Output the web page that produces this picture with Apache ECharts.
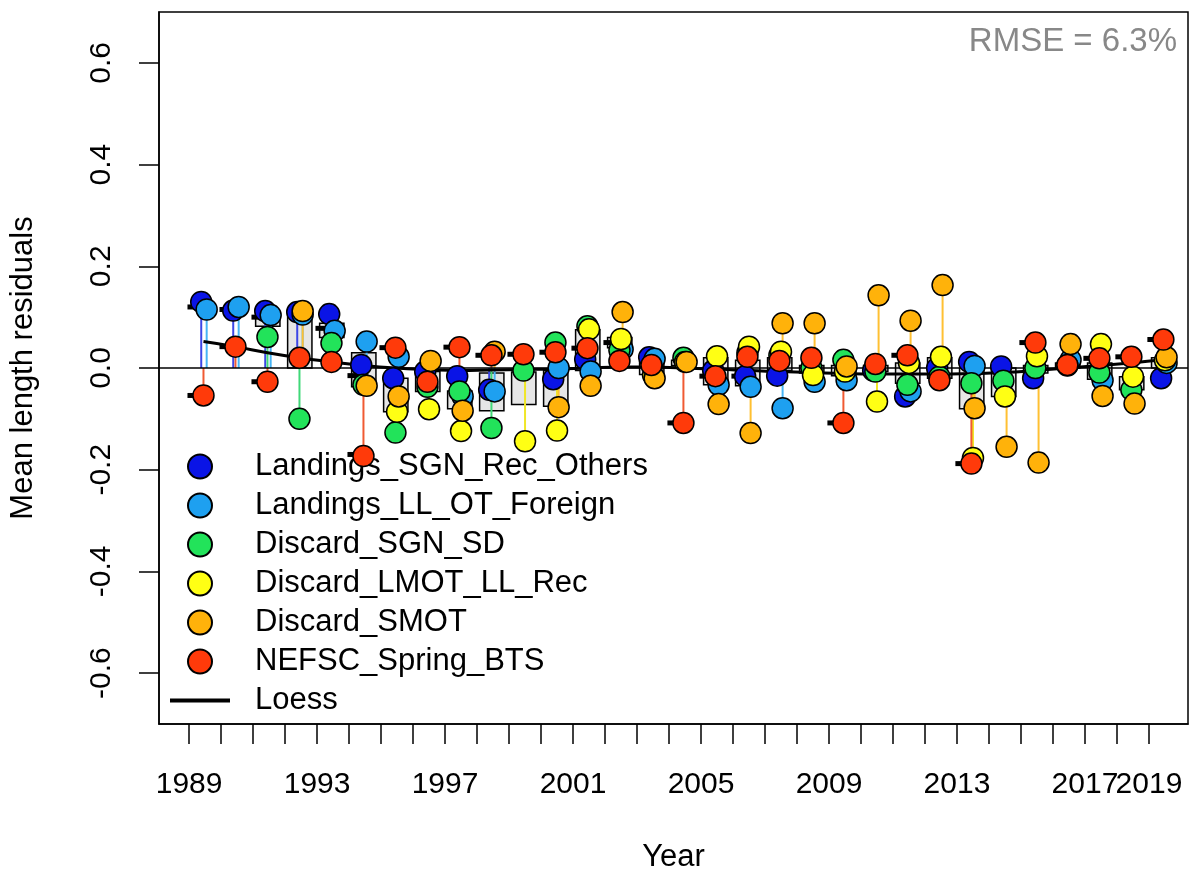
<!DOCTYPE html>
<html>
<head>
<meta charset="utf-8">
<script src="https://cdn.jsdelivr.net/npm/echarts@6/dist/echarts.min.js"></script>
<style>html,body{margin:0;padding:0;background:#fff}#c{width:1196px;height:878px}</style>
</head>
<body>
<div id="c"></div>
<script>
var years = [];
for (var y = 1989; y <= 2019; y++) years.push(y);
var fleets = ['Landings_SGN_Rec_Others','Landings_LL_OT_Foreign','Discard_SGN_SD','Discard_LMOT_LL_Rec','Discard_SMOT','NEFSC_Spring_BTS'];
var colors = ['#0a14e6','#1ea0f0','#22e35a','#ffff14','#ffb20a','#ff3a0a'];
var stemColors = ['#3c46e6','#46b4f5','#40d878','#f0e628','#ffc032','#f05a32'];
var offsets = [0.38,0.55,0.45,0.5,0.55,0.45];

var resB  = [.13,.113,.112,.11,.106,.006,-.02,-.007,-.016,-.043,null,-.022,.017,null,.021,null,-.005,-.016,-.015,null,null,-.005,-.056,0,.012,.003,-.02,null,null,null,-.02];
var resLB = [.115,.12,.104,.105,.073,.052,.022,null,-.056,-.046,null,0,-.007,.037,.018,null,-.033,-.037,-.079,-.027,-.024,null,-.046,null,.004,null,null,.016,-.024,null,.01];
var resG  = [null,null,.061,-.1,.049,-.033,-.127,-.037,-.046,-.118,-.005,.05,.082,.035,null,.02,null,.03,.025,0,.016,-.007,-.033,-.017,-.03,-.025,0,.005,-.009,-.043,null];
var resY  = [null,null,null,null,null,null,-.086,-.081,-.124,null,-.144,-.123,.076,.057,-.014,.012,.023,.042,.032,-.014,-.007,-.066,.01,.022,-.177,-.056,.023,null,.047,-.017,.015];
var resO  = [null,null,null,.112,null,-.035,-.056,.014,-.084,.032,null,-.077,-.035,.11,-.02,.012,-.071,-.128,.088,.088,.003,.143,.093,.163,-.079,-.155,-.186,.047,-.055,-.07,.021];
var resR  = [-.054,.042,-.027,.02,.012,-.173,.04,-.027,.041,.025,.027,.031,.039,.014,.006,-.108,-.016,.022,.014,.02,-.108,.008,.025,-.024,-.188,null,.05,.006,.019,.022,.056];
var residuals = [resB,resLB,resG,resY,resO,resR];

var boxLow  = [null,null,.082,0,.06,-.037,-.086,-.046,-.08,-.084,-.072,-.075,-.005,.04,-.013,.005,-.033,-.035,-.005,-.01,-.015,-.007,-.03,-.02,-.08,-.056,-.01,0,-.022,-.043,0];
var boxHigh = [null,null,.108,.11,.088,.03,-.02,-.007,-.045,-.01,-.008,-.005,.075,.06,.012,.015,.02,.015,.02,.005,.005,.005,.01,.02,0,0,.005,.01,.01,-.017,.02];

var loess = [.052,.042,.03,.02,.012,.005,0,-.003,-.005,-.004,-.003,-.002,0,.002,.002,0,-.002,-.005,-.007,-.009,-.011,-.012,-.012,-.012,-.011,-.009,-.005,0,.005,.01,.016];

var dashes = [[1989,.12],[1989,-.054],[1990,.115],[1990,.042],[1991,-.027],[1991,.1],[1993,.078],[1994,-.17],[1994,-.015],[1995,.04],
  [1997,.041],[1998,.025],[1999,.027],[2000,.031],[2001,.039],[2002,.05],[2004,-.108],[2005,-.016],[2006,-.016],[2009,-.108],
  [2011,.025],[2013,-.188],[2015,.05],[2017,.019],[2018,.022],[2019,.056]];

var xTicks = years.slice();
var xLabels = [1989,1993,1997,2001,2005,2009,2013,2019];
var xLabelsExtra = [2017];
var yTicks = [-0.6,-0.4,-0.2,0,0.2,0.4,0.6];

var chart = echarts.init(document.getElementById('c'));
var font = 'Liberation Sans, Arial, sans-serif';

var boxData = [], stemData = [], loessData = [];
for (var i = 0; i < years.length; i++) {
  if (boxLow[i] !== null) boxData.push([years[i], boxLow[i], boxHigh[i]]);
  loessData.push([years[i] + 0.45, loess[i]]);
  for (var f = 0; f < fleets.length; f++) {
    if (residuals[f][i] !== null) stemData.push([years[i] + offsets[f], residuals[f][i], f]);
  }
}

var series = [
  {
    type: 'custom', name: 'box', silent: true, z: 1,
    data: boxData,
    renderItem: function (p, api) {
      var a = api.coord([api.value(0) + 0.08, api.value(2)]);
      var b = api.coord([api.value(0) + 0.84, api.value(1)]);
      return {type: 'rect', shape: {x: a[0], y: a[1], width: b[0] - a[0], height: b[1] - a[1]},
        style: {fill: '#e6e6e6', stroke: '#000', lineWidth: 1.5}};
    }
  },
  {
    type: 'custom', name: 'stems', silent: true, z: 2,
    data: stemData,
    renderItem: function (p, api) {
      var a = api.coord([api.value(0), 0]);
      var b = api.coord([api.value(0), api.value(1)]);
      return {type: 'line', shape: {x1: a[0], y1: a[1], x2: b[0], y2: b[1]},
        style: {stroke: stemColors[api.value(2)], lineWidth: 2}};
    }
  },
  {
    type: 'custom', name: 'dash', silent: true, z: 3,
    data: dashes,
    renderItem: function (p, api) {
      var a = api.coord([api.value(0) - 0.05, api.value(1)]);
      var b = api.coord([api.value(0) + 0.4, api.value(1)]);
      return {type: 'line', shape: {x1: a[0], y1: a[1], x2: b[0], y2: b[1]},
        style: {stroke: '#000', lineWidth: 5}};
    }
  },
  {
    type: 'line', name: 'Loess', data: loessData, symbol: 'none', smooth: true, z: 4,
    lineStyle: {color: '#000', width: 3}, itemStyle: {color: '#000'},
    markLine: {silent: true, symbol: 'none', label: {show: false},
      lineStyle: {color: '#000', width: 1.5, type: 'solid'}, data: [{yAxis: 0}]}
  }
];
for (var f = 0; f < fleets.length; f++) {
  var d = [];
  for (var i = 0; i < years.length; i++) {
    if (residuals[f][i] !== null) d.push([years[i] + offsets[f], residuals[f][i]]);
  }
  series.push({
    type: 'scatter', name: fleets[f], data: d, symbol: 'circle', symbolSize: 21, z: 5,
    itemStyle: {color: colors[f], borderColor: '#000', borderWidth: 1.5, opacity: 1}
  });
}

var labelStyle = {margin: 46, fontSize: 30, fontFamily: font, color: '#000', hideOverlap: false,
  formatter: function (v) { return String(v); }};

chart.setOption({
  animation: false,
  grid: {left: 159, right: 8, top: 12, bottom: 152, show: true, borderColor: '#000', borderWidth: 1.5},
  title: {text: 'RMSE = 6.3%', right: 14, top: 20,
    textStyle: {color: '#888', fontSize: 33, fontWeight: 'normal', fontFamily: font}},
  legend: {
    orient: 'vertical', left: 165, top: 446, itemGap: 8, itemWidth: 60, itemHeight: 24,
    data: fleets.map(function (n) { return {name: n, icon: 'circle'}; })
      .concat([{name: 'Loess', icon: 'path://M0,0 L60,0 L60,4 L0,4 Z', itemStyle: {color: '#000'}}]),
    textStyle: {fontSize: 31, fontFamily: font, color: '#000', padding: [0, 0, 0, 20]},
    selectedMode: false
  },
  xAxis: [{
    type: 'value', min: 1988.06, max: 2020.22,
    name: 'Year', nameLocation: 'middle', nameGap: 118,
    nameTextStyle: {fontSize: 31, fontFamily: font, color: '#000'},
    splitLine: {show: false},
    axisLine: {show: true, onZero: false, lineStyle: {color: '#000', width: 1.5}},
    axisTick: {show: true, length: 20, customValues: xTicks, lineStyle: {color: '#000', width: 1.5}},
    axisLabel: Object.assign({customValues: xLabels}, labelStyle)
  }, {
    type: 'value', min: 1988.06, max: 2020.22, position: 'bottom',
    splitLine: {show: false}, axisLine: {show: false}, axisTick: {show: false},
    axisLabel: Object.assign({customValues: xLabelsExtra}, labelStyle)
  }],
  yAxis: {
    type: 'value', min: -0.7, max: 0.7,
    name: 'Mean length residuals', nameLocation: 'middle', nameGap: 120,
    nameTextStyle: {fontSize: 31, fontFamily: font, color: '#000'},
    splitLine: {show: false},
    axisLine: {show: true, lineStyle: {color: '#000', width: 1.5}},
    axisTick: {show: true, length: 20, customValues: yTicks, lineStyle: {color: '#000', width: 1.5}},
    axisLabel: {customValues: yTicks, rotate: 90, margin: 42, fontSize: 30, fontFamily: font, color: '#000',
      formatter: function (v) { return v.toFixed(1); }}
  },
  series: series
});
</script>
</body>
</html>
